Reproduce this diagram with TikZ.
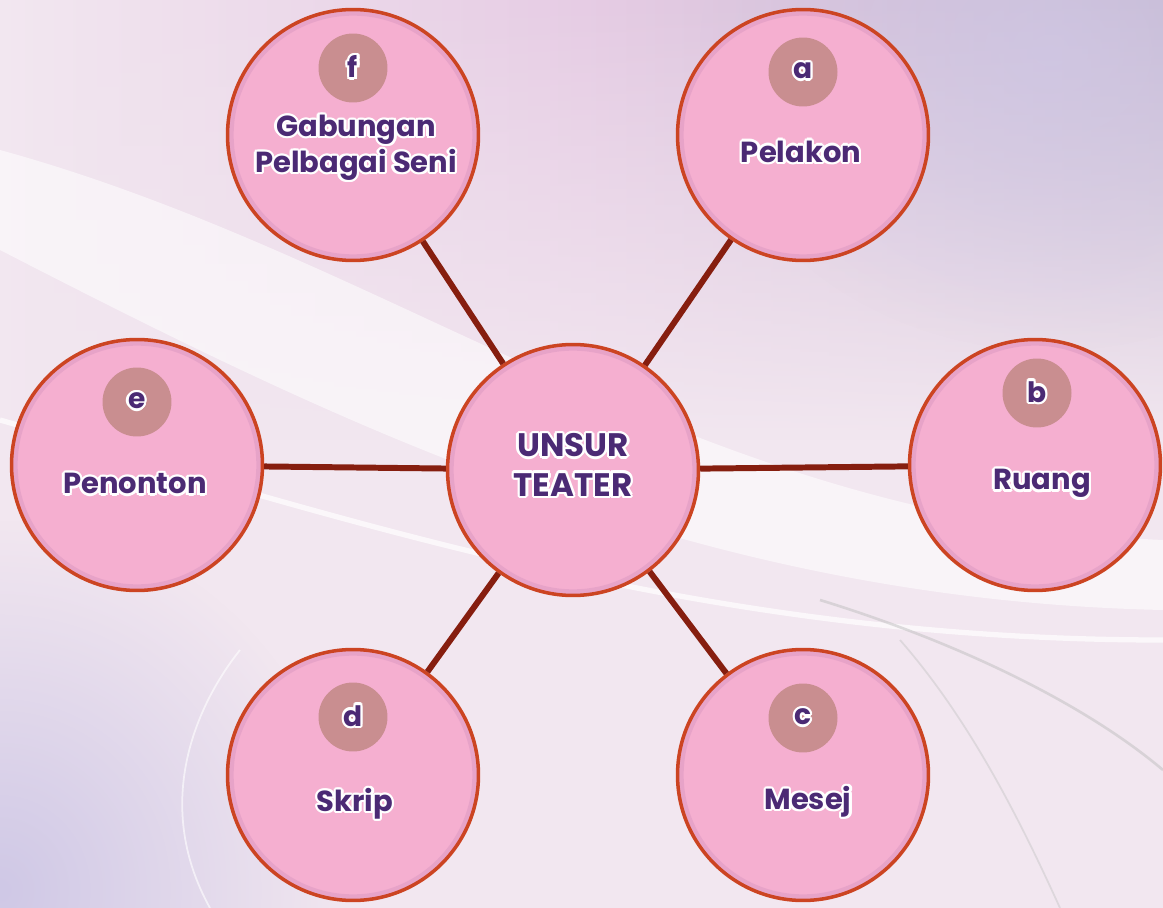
\documentclass[tikz,border=0pt]{standalone}
\usepackage{fontspec}
\setmainfont{Poppins}
\usepackage{contour}
\contourlength{1.4pt}
\contournumber{12}
\usetikzlibrary{positioning, calc, fadings}
\tikzfading[name=pudar, inner color=transparent!0, outer color=transparent!100]
\definecolor{latar}{HTML}{F2E7F0}
\definecolor{lataratas}{HTML}{C6B8D0}
\definecolor{latartengah}{HTML}{E6CCE4}
\definecolor{latarungu}{HTML}{CFC8E6}
\definecolor{bulatan}{HTML}{F5AFD0}
\definecolor{bayang}{HTML}{C98AB8}
\definecolor{tepi}{HTML}{CC4422}
\definecolor{garis}{HTML}{861E0F}
\definecolor{pelekat}{HTML}{C98E90}
\definecolor{ungu}{HTML}{4B2A74}
\tikzset{unsur/.style={
          draw=tepi,
          line width=2pt,
          circle,
          fill=bulatan,
          inner sep=0pt,
          minimum size=5.02cm,
          path picture={\draw [bayang, line width=7pt, opacity=0.3]
              (path picture bounding box.center) circle (2.51cm);}
     }}
\tikzset{pelekat/.style={
          circle,
          fill=pelekat,
          inner sep=0pt,
          minimum size=1.38cm,
          font=\fontsize{16}{16}\selectfont\bfseries
     }}
\tikzset{teks/.style={
          align=center,
          font=\fontsize{16.5}{20.5}\selectfont\bfseries
     }}
\tikzset{link/.style={garis, line width=3.4pt}}
\newcommand{\tulis}[1]{\contour{white}{\textcolor{ungu}{#1}}}

\begin{document}
\begin{tikzpicture}[x=0.02cm, y=-0.02cm]
\useasboundingbox (0,0) rectangle (1163,908);
% latar belakang
\begin{scope}
\clip (0,0) rectangle (1163,908);
\fill [latar] (0,0) rectangle (1163,908);
\shade [left color=latar, right color=lataratas, middle color=latartengah, path fading=south] (0,0) rectangle (1163,440);
\fill [latarungu, path fading=pudar] (-350,520) rectangle (350,1260);
\fill [latarungu, path fading=pudar, opacity=0.7] (700,-250) rectangle (1400,350);
\fill [white, opacity=0.55] (0,150) .. controls (400,260) and (700,520) .. (1163,540) -- (1163,610) .. controls (700,600) and (350,430) .. (0,250) -- cycle;
\draw [white, opacity=0.7, line width=3pt] (0,420) .. controls (350,520) and (700,640) .. (1163,640);
\draw [gray!50, opacity=0.5, line width=1.5pt] (820,600) .. controls (950,640) and (1080,700) .. (1163,770);
\draw [gray!50, opacity=0.4, line width=1pt] (900,640) .. controls (970,720) and (1020,820) .. (1060,908);
\draw [white, opacity=0.6, line width=1pt] (210,908) .. controls (150,800) and (200,700) .. (240,650);
\end{scope}

% bulatan
\node (pusat) [unsur] at (573,470) {};
\node (f) [unsur] at (353,135) {};
\node (a) [unsur] at (803,135) {};
\node (e) [unsur] at (137,465) {};
\node (b) [unsur] at (1035,465) {};
\node (d) [unsur] at (353,775) {};
\node (c) [unsur] at (803,775) {};

% garis penghubung
\draw [link] (pusat) -- (f);
\draw [link] (pusat) -- (a);
\draw [link] (pusat) -- (e);
\draw [link] (pusat) -- (b);
\draw [link] (pusat) -- (d);
\draw [link] (pusat) -- (c);

% pelekat huruf
\node (fhuruf) [pelekat] at (353,68) {\tulis{f}};
\node (ahuruf) [pelekat] at (803,72) {\tulis{a}};
\node (ehuruf) [pelekat] at (137,402) {\tulis{e}};
\node (bhuruf) [pelekat] at (1037,393) {\tulis{b}};
\node (dhuruf) [pelekat] at (353,717) {\tulis{d}};
\node (churuf) [pelekat] at (803,718) {\tulis{c}};

% teks
\node (pusatteks) [teks, font=\fontsize{18.5}{22.5}\selectfont\bfseries] at (573,466) {\tulis{UNSUR}\\\tulis{TEATER}};
\node (fteks) [teks] at (356,149) {\tulis{Gabungan}\\\tulis{Pelbagai Seni}};
\node (ateks) [teks] at (801,153) {\tulis{Pelakon}};
\node (eteks) [teks] at (135,485) {\tulis{Penonton}};
\node (bteks) [teks] at (1042,485) {\tulis{Ruang}};
\node (dteks) [teks] at (355,805) {\tulis{Skrip}};
\node (cteks) [teks] at (808,803) {\tulis{Mesej}};
\end{tikzpicture}
\end{document}
